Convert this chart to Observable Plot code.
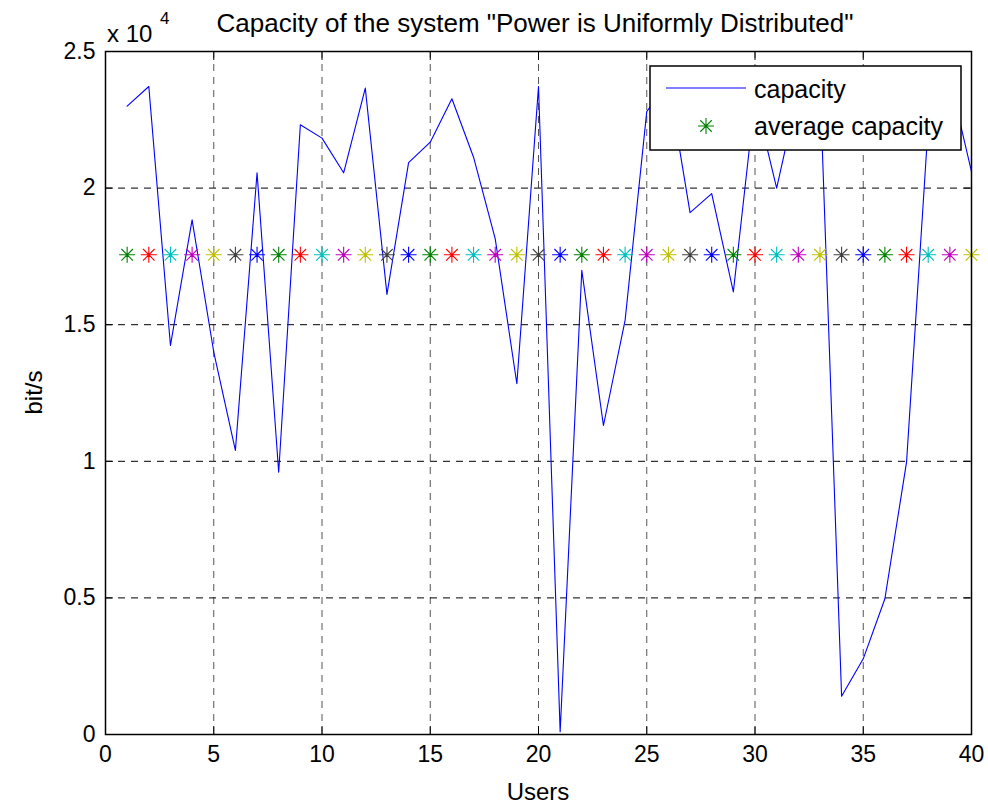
<!DOCTYPE html>
<html><head><meta charset="utf-8">
<script src="https://cdn.jsdelivr.net/npm/d3@7"></script>
<script src="https://cdn.jsdelivr.net/npm/@observablehq/plot@0.6"></script>
<style>body{margin:0;background:#fff} svg{display:block}</style>
</head><body><div id="chart"></div>
<script>
const users = [1,2,3,4,5,6,7,8,9,10,11,12,13,14,15,16,17,18,19,20,21,22,23,24,25,26,27,28,29,30,31,32,33,34,35,36,37,38,39,40];
const capacity = [23000,23720,14240,18840,14000,10400,20560,9600,22320,21830,
                  20560,23660,16110,20930,21680,23270,21130,18150,12840,23720,
                  100,16990,11310,15160,22800,23900,19100,19800,16200,23300,
                  20000,23550,23900,1400,2770,4970,9970,22300,24000,20600];
const averageCapacity = 17560;
const markerColors = ["#008000","#ff0000","#00bfbf","#bf00bf","#bfbf00","#404040","#0000ff"];
const xTicks = [0,5,10,15,20,25,30,35,40];
const yTicks = [0,5000,10000,15000,20000,25000];
const yTickLabels = ["0","0.5","1","1.5","2","2.5"];
const titleText = 'Capacity of the system "Power is Uniformly Distributed"';
const xLabel = "Users";
const yLabel = "bit/s";
const exponentBase = "x 10";
const exponentPower = "4";
const seriesNames = ["capacity","average capacity"];

const W = 988, H = 806;
const mL = 105, mR = 17, mT = 51, mB = 72;
const FONT = "'Liberation Sans', Arial, Helvetica, sans-serif";

const star = {draw(ctx, size){
  const r = Math.sqrt(size/Math.PI), d = r*0.72;
  ctx.moveTo(-r,0); ctx.lineTo(r,0);
  ctx.moveTo(0,-r); ctx.lineTo(0,r);
  ctx.moveTo(-d,-d); ctx.lineTo(d,d);
  ctx.moveTo(-d,d); ctx.lineTo(d,-d);
}};

const avgRows = users.map((u,i) => ({u, v: averageCapacity, c: markerColors[i % markerColors.length]}));

const svg = Plot.plot({
  width: W, height: H,
  marginLeft: mL, marginRight: mR, marginTop: mT, marginBottom: mB,
  style: {fontFamily: FONT, fontSize: "23px", color: "#000", background: "#fff"},
  x: {domain: [0,40]},
  y: {domain: [0,25000]},
  color: {type: "identity"},
  marks: [
    Plot.gridX({ticks: xTicks, stroke: "#555", strokeOpacity: 1, strokeWidth: 1, strokeDasharray: "7,6"}),
    Plot.gridY({ticks: yTicks, stroke: "#000", strokeOpacity: 1, strokeWidth: 1, strokeDasharray: "7,6"}),
    Plot.lineY(capacity, {x: (d,i) => users[i], y: d => d, stroke: "#0000ff", strokeWidth: 1.1}),
    Plot.dot(avgRows, {x: "u", y: "v", symbol: star, r: 8, stroke: "c", fill: "none", strokeWidth: 1.1}),
    Plot.frame({stroke: "#000", strokeWidth: 1.5}),
    Plot.axisX({anchor: "bottom", ticks: xTicks, tickSize: -8, tickPadding: 19, label: null, fontSize: 23, tickFormat: d => String(d)}),
    Plot.axisX({anchor: "top", ticks: xTicks, tickSize: -8, label: null, tickFormat: () => ""}),
    Plot.axisY({anchor: "left", ticks: yTicks, tickSize: -8, tickPadding: 18, label: null, fontSize: 23, tickFormat: d => yTickLabels[yTicks.indexOf(d)]}),
    Plot.axisY({anchor: "right", ticks: yTicks, tickSize: -8, label: null, tickFormat: () => ""})
  ]
});

const s = d3.select(svg);
const plotCx = mL + (W - mL - mR) / 2;
const txt = (x, y, size, anchor, str) => s.append("text").attr("x", x).attr("y", y)
  .attr("text-anchor", anchor).style("font-family", FONT).style("font-size", size + "px")
  .attr("fill", "#000").text(str);
txt(plotCx - 3, 32, 26, "middle", titleText);
txt(plotCx, 800, 24, "middle", xLabel);
s.append("text").attr("transform", `translate(42,${mT + (H - mT - mB)/2}) rotate(-90)`).attr("text-anchor","middle")
  .style("font-family", FONT).style("font-size","24px").attr("fill","#000").text(yLabel);
txt(mL + 2, 42, 24, "start", exponentBase);
txt(mL + 55, 24, 17, "start", exponentPower);

// legend
const lx = 650, ly = 66, lw = 311, lh = 84;
const lg = s.append("g");
lg.append("rect").attr("x", lx).attr("y", ly).attr("width", lw).attr("height", lh)
  .attr("fill","#fff").attr("stroke","#000").attr("stroke-width",1.5);
lg.append("line").attr("x1", lx+16).attr("x2", lx+96).attr("y1", ly+22).attr("y2", ly+22)
  .attr("stroke","#0000ff").attr("stroke-width",1.1);
lg.append("path").attr("transform", `translate(${lx+56},${ly+60})`)
  .attr("d", d3.symbol(star, Math.PI*64)()).attr("stroke", markerColors[0]).attr("fill","none").attr("stroke-width",1.1);
const ltxt = (y, str) => lg.append("text").attr("x", lx+104).attr("y", y).attr("text-anchor","start")
  .style("font-family", FONT).style("font-size","25px").attr("fill","#000").text(str);
ltxt(ly+32, seriesNames[0]);
ltxt(ly+69, seriesNames[1]);

document.getElementById("chart").appendChild(svg);
</script>
</body></html>
